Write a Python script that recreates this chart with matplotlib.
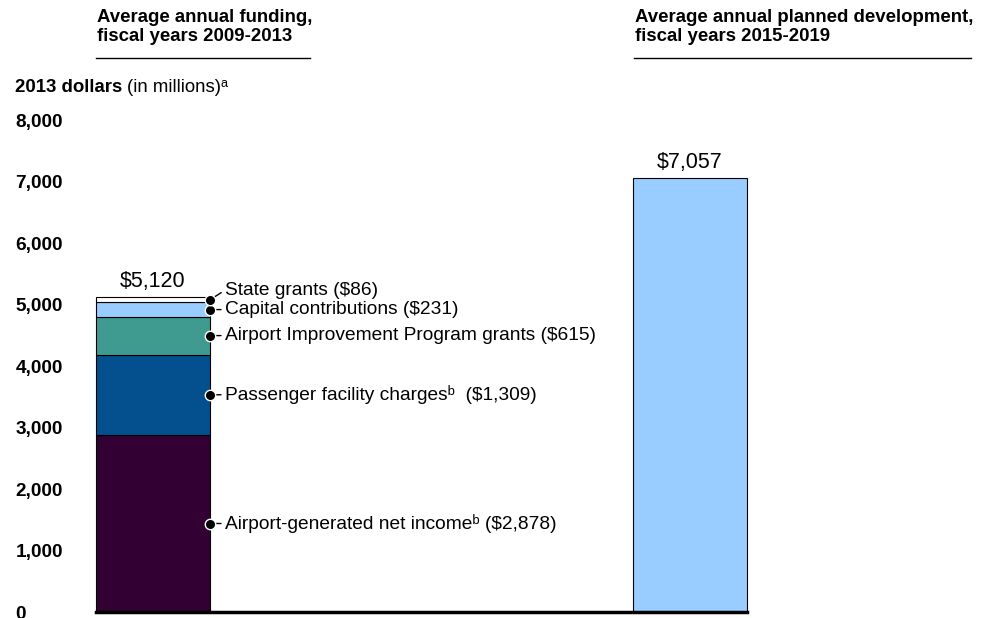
import matplotlib.pyplot as plt

plt.rcParams['font.family'] = ['Liberation Sans', 'DejaVu Sans']

# --------------------------------------------------------
# Data (2013 dollars, in millions)
# --------------------------------------------------------
sources = ["Airport-generated net income\u1d47 ($2,878)",
           "Passenger facility charges\u1d47  ($1,309)",
           "Airport Improvement Program grants ($615)",
           "Capital contributions ($231)",
           "State grants ($86)"]
funding = [2878, 1309, 615, 231, 86]
colors = ["#330033", "#04508f", "#3f9a8f", "#99ccff", "#ffffff"]
funding_total = "$5,120"

planned = 7057
planned_label = "$7,057"

yticks = [0, 1000, 2000, 3000, 4000, 5000, 6000, 7000, 8000]

# --------------------------------------------------------
# Figure layout
# --------------------------------------------------------
fig = plt.figure(figsize=(9.9, 6.18), dpi=100)
ax = fig.add_axes([0.097, 0.0097, 0.6575, 0.7961])

w = 0.212
bottom = 0
for val, col in zip(funding, colors):
    ax.bar(0, val, width=w, bottom=bottom, color=col, edgecolor="black",
           linewidth=0.8, clip_on=False)
    bottom += val
ax.bar(1, planned, width=w, color="#99ccff", edgecolor="black", linewidth=0.8,
       clip_on=False)

ax.text(0, bottom + 80, funding_total, ha="center", va="bottom", fontsize=15.5)
ax.text(1, planned + 80, planned_label, ha="center", va="bottom", fontsize=15.5)

# callouts on the right edge of the stacked bar
edge = w / 2
bottom = 0
offsets = [(11, 0), (11, 0), (11, 0), (11, 0), (11, 7)]
for val, label, off in zip(funding, sources, offsets):
    mid = bottom + val / 2
    ax.annotate(label, xy=(edge, mid), xytext=off, textcoords="offset points",
                ha="left", va="center", fontsize=13.8,
                arrowprops=dict(arrowstyle="-", color="black", lw=1,
                                shrinkA=1, shrinkB=0, relpos=(0, 0.5)))
    ax.plot(edge, mid, "o", markersize=7.5, markerfacecolor="black",
            markeredgecolor="white", markeredgewidth=1, clip_on=False, zorder=5)
    bottom += val

ax.set_xlim(-w / 2, 1 + w / 2)
ax.set_ylim(0, 8000)
ax.set_yticks(yticks)
ax.set_yticklabels([f"{t:,}" for t in yticks], fontsize=13.7, fontweight="bold", ha="left")
ax.tick_params(axis="y", length=0, pad=58)
ax.set_xticks([])
for s in ["top", "right", "left"]:
    ax.spines[s].set_visible(False)
ax.spines["bottom"].set_linewidth(2.5)

# headers
fig.text(0.098, 0.985, "Average annual funding,\nfiscal years 2009-2013",
         ha="left", va="top", fontsize=13.4, fontweight="bold", linespacing=1.1)
fig.add_artist(plt.Line2D([0.097, 0.313], [0.906, 0.906], color="black", lw=1))
fig.text(0.641, 0.985, "Average annual planned development,\nfiscal years 2015-2019",
         ha="left", va="top", fontsize=13.4, fontweight="bold", linespacing=1.1)
fig.add_artist(plt.Line2D([0.640, 0.981], [0.906, 0.906], color="black", lw=1))

t1 = fig.text(0.015, 0.858, "2013 dollars ", ha="left", va="center",
              fontsize=13.4, fontweight="bold")
fig.canvas.draw()
bb = t1.get_window_extent().transformed(fig.transFigure.inverted())
fig.text(bb.x1, 0.858, "(in millions)\u1d43", ha="left", va="center", fontsize=13.4)

plt.savefig("out.png", dpi=100)
